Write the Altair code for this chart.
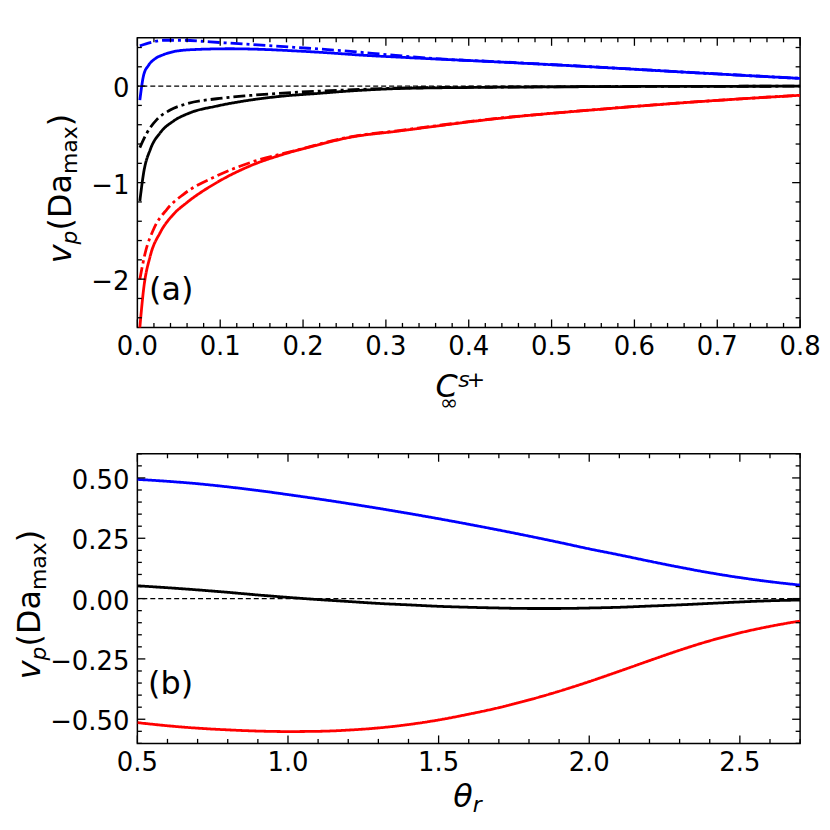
import altair as alt
import pandas as pd

FONT = "DejaVu Sans"

# ---------------- panel (a): v_p vs C_inf^{s+} ----------------
a_blue_solid_x = [0.003, 0.0076, 0.0136, 0.0216, 0.0316, 0.048, 0.072, 0.112, 0.152, 0.192, 0.232, 0.272, 0.32, 0.436, 0.556, 0.676, 0.8]
a_blue_solid_y = [-0.145, 0.114, 0.217, 0.285, 0.326, 0.364, 0.38, 0.387, 0.38, 0.364, 0.344, 0.32, 0.298, 0.25, 0.196, 0.137, 0.08]
a_blue_dd_x = [0.003, 0.0156, 0.032, 0.056, 0.088, 0.132, 0.192, 0.24, 0.312, 0.36, 0.436, 0.556, 0.676, 0.8]
a_blue_dd_y = [0.417, 0.45, 0.475, 0.475, 0.458, 0.434, 0.40, 0.372, 0.318, 0.284, 0.252, 0.197, 0.138, 0.08]
a_black_solid_x = [0.003, 0.0076, 0.0156, 0.0276, 0.0436, 0.0637, 0.0957, 0.136, 0.176, 0.216, 0.254, 0.316, 0.4, 0.5, 0.6, 0.7, 0.8]
a_black_solid_y = [-1.19, -0.897, -0.656, -0.483, -0.362, -0.276, -0.207, -0.145, -0.103, -0.077, -0.052, -0.025, -0.014, -0.008, -0.004, -0.002, -0.001]
a_black_dd_x = [0.003, 0.0117, 0.0237, 0.0396, 0.0597, 0.0957, 0.136, 0.196, 0.254, 0.316, 0.4, 0.5, 0.6, 0.7, 0.8]
a_black_dd_y = [-0.638, -0.483, -0.345, -0.248, -0.183, -0.131, -0.097, -0.062, -0.04, -0.02, -0.012, -0.007, -0.003, -0.002, -0.001]
a_red_solid_x = [0.0025, 0.0076, 0.0156, 0.0276, 0.0436, 0.0597, 0.0957, 0.136, 0.176, 0.216, 0.254, 0.316, 0.436, 0.556, 0.676, 0.8]
a_red_solid_y = [-2.55, -2.10, -1.758, -1.517, -1.328, -1.207, -1.0, -0.827, -0.707, -0.614, -0.535, -0.465, -0.335, -0.242, -0.162, -0.095]
a_red_dd_x = [0.003, 0.0096, 0.0196, 0.0357, 0.0557, 0.0957, 0.136, 0.196, 0.254, 0.316, 0.436, 0.556, 0.676, 0.8]
a_red_dd_y = [-2.0, -1.724, -1.483, -1.276, -1.121, -0.931, -0.793, -0.656, -0.53, -0.46, -0.333, -0.241, -0.161, -0.095]

a_x_major = [0.0, 0.1, 0.2, 0.3, 0.4, 0.5, 0.6, 0.7, 0.8]
a_x_minor = [round(i * 0.02, 2) for i in range(41) if i % 5]
a_y_major = [-2, -1, 0]
a_y_minor = [round(-2.4 + i * 0.2, 1) for i in range(15) if (i - 2) % 5]

# ---------------- panel (b): v_p vs theta_r ----------------
b_theta = [0.5, 0.6, 0.7, 0.8, 0.9, 1.0, 1.1, 1.2, 1.3, 1.4, 1.5, 1.6, 1.7, 1.8, 1.9, 2.0, 2.1, 2.2, 2.3, 2.4, 2.5, 2.6, 2.7]
b_blue = [0.494, 0.486, 0.476, 0.463, 0.448, 0.431, 0.413, 0.394, 0.374, 0.353, 0.331, 0.308, 0.284, 0.259, 0.233, 0.206, 0.181, 0.155, 0.130, 0.107, 0.087, 0.070, 0.056]
b_black = [0.053, 0.045, 0.036, 0.026, 0.015, 0.005, -0.004, -0.012, -0.020, -0.026, -0.032, -0.036, -0.039, -0.041, -0.041, -0.039, -0.036, -0.031, -0.026, -0.020, -0.014, -0.009, -0.006]
b_red = [-0.514, -0.527, -0.537, -0.544, -0.549, -0.551, -0.550, -0.545, -0.536, -0.522, -0.503, -0.479, -0.452, -0.420, -0.384, -0.344, -0.301, -0.257, -0.214, -0.175, -0.142, -0.115, -0.093]

b_x_major = [0.5, 1.0, 1.5, 2.0, 2.5]
b_x_minor = [round(0.5 + i * 0.1, 1) for i in range(23) if i % 5]
b_y_major = [-0.5, -0.25, 0.0, 0.25, 0.5]
b_y_minor = [round(-0.6 + i * 0.05, 2) for i in range(25) if (i - 2) % 5]

BLUE, BLACK, RED = "#0000ff", "#000000", "#ff0000"

W = 666
H = 291


def curves_df(curves):
    rows = []
    for name, color, style, xs, ys in curves:
        for i, (x, y) in enumerate(zip(xs, ys)):
            rows.append({"series": name, "color": color, "style": style, "x": x, "y": y, "i": i})
    return pd.DataFrame(rows)


def txt(s, x, y, size, italic=False, angle=0):
    return alt.Chart(pd.DataFrame({"t": [s]})).mark_text(
        font=FONT, fontSize=size, fontStyle="italic" if italic else "normal",
        align="left", baseline="alphabetic", angle=angle, color="black"
    ).encode(text="t:N", x=alt.value(x), y=alt.value(y))


def ytitle_layers(base_x):
    MAIN, SUB = 32, 22
    pieces = [("v", MAIN, True, 0.592), ("p", SUB, True, 0.635), ("(Da", MAIN, False, 1.773),
              ("max", SUB, False, 2.179), (")", MAIN, False, 0.390)]
    total = sum(sz * adv for _, sz, _, adv in pieces)
    y = H / 2 + 6 + total / 2
    out = []
    for s, sz, it, adv in pieces:
        bx = base_x if sz == MAIN else base_x + 6.5
        out.append(txt(s, bx, y, sz, it, angle=270))
        y -= sz * adv
    return out


def panel(df, xdom, ydom, xmaj, xmin, ymaj, ymin, xfmt, yfmt, title_x, extras):
    xs = alt.Scale(domain=xdom, nice=False, zero=False)
    ys = alt.Scale(domain=ydom, nice=False, zero=False)

    lines = alt.Chart(df).mark_line(strokeWidth=2.8, clip=True, interpolate="monotone").encode(
        x=alt.X("x:Q", scale=xs, axis=None),
        y=alt.Y("y:Q", scale=ys, axis=None),
        color=alt.Color("color:N", scale=None),
        strokeDash=alt.StrokeDash("style:N", scale=alt.Scale(domain=["solid", "dashdot"], range=[[1, 0], [12, 4, 3, 4]]), legend=None),
        detail="series:N",
        order="i:Q",
    )
    zero = alt.Chart(pd.DataFrame({"z": [0.0]})).mark_rule(color="black", strokeWidth=1.4, strokeDash=[5, 3]).encode(
        y=alt.Y("z:Q", scale=ys, axis=None)
    )
    layers = [lines, zero]
    for vals, L in ((xmaj, 8), (xmin, 4.5)):
        d = pd.DataFrame({"v": vals})
        layers.append(alt.Chart(d).mark_rule(color="black", strokeWidth=1.3).encode(
            x=alt.X("v:Q", scale=xs, axis=None), y=alt.value(H), y2=alt.value(H - L)))
        layers.append(alt.Chart(d).mark_rule(color="black", strokeWidth=1.3).encode(
            x=alt.X("v:Q", scale=xs, axis=None), y=alt.value(0), y2=alt.value(L)))
    for vals, L in ((ymaj, 8), (ymin, 4.5)):
        d = pd.DataFrame({"v": vals})
        layers.append(alt.Chart(d).mark_rule(color="black", strokeWidth=1.3).encode(
            y=alt.Y("v:Q", scale=ys, axis=None), x=alt.value(0), x2=alt.value(L)))
        layers.append(alt.Chart(d).mark_rule(color="black", strokeWidth=1.3).encode(
            y=alt.Y("v:Q", scale=ys, axis=None), x=alt.value(W), x2=alt.value(W - L)))
    # tick labels
    layers.append(alt.Chart(pd.DataFrame({"v": xmaj})).mark_text(
        font=FONT, fontSize=26, align="center", baseline="top", color="black").encode(
        x=alt.X("v:Q", scale=xs, axis=None), y=alt.value(H + 7), text=alt.Text("v:Q", format=xfmt)))
    layers.append(alt.Chart(pd.DataFrame({"v": ymaj})).mark_text(
        font=FONT, fontSize=26, align="right", baseline="middle", color="black", dy=3).encode(
        y=alt.Y("v:Q", scale=ys, axis=None), x=alt.value(-8), text=alt.Text("v:Q", format=yfmt)))
    layers += ytitle_layers(title_x)
    layers += extras
    return alt.layer(*layers).properties(width=W, height=H)


df_a = curves_df([
    ("blue_solid", BLUE, "solid", a_blue_solid_x, a_blue_solid_y),
    ("blue_dd", BLUE, "dashdot", a_blue_dd_x, a_blue_dd_y),
    ("black_solid", BLACK, "solid", a_black_solid_x, a_black_solid_y),
    ("black_dd", BLACK, "dashdot", a_black_dd_x, a_black_dd_y),
    ("red_solid", RED, "solid", a_red_solid_x, a_red_solid_y),
    ("red_dd", RED, "dashdot", a_red_dd_x, a_red_dd_y),
])
df_b = curves_df([
    ("blue", BLUE, "solid", b_theta, b_blue),
    ("black", BLACK, "solid", b_theta, b_black),
    ("red", RED, "solid", b_theta, b_red),
])

extras_a = [
    txt("(a)", 11.8, 263.2, 32),
    txt("C", 299.7, 360.5, 32, italic=True),
    txt("s", 322.5, 350.7, 22, italic=True),
    txt("+", 331, 350.7, 22),
    txt("\u221e", 304, 374, 22),
]
extras_b = [
    txt("(b)", 10.8, 241.8, 32),
    txt("\u03b8", 317.5, 355.4, 32, italic=True),
    txt("r", 337, 359.7, 22, italic=True),
]

pa = panel(df_a, [0, 0.8], [-2.5, 0.5], a_x_major, a_x_minor, a_y_major, a_y_minor, ".1f", "d", -67, extras_a)
pb = panel(df_b, [0.5, 2.7], [-0.6, 0.6], b_x_major, b_x_minor, b_y_major, b_y_minor, ".1f", ".2f", -98, extras_b)

chart = alt.vconcat(pa, pb, spacing=127, bounds="flush").properties(
    padding={"left": 5, "top": 26, "right": 0, "bottom": 0}
).configure_view(stroke="black", strokeWidth=1.5)

chart.save("out.html", embed_options={"renderer": "svg", "actions": False})
